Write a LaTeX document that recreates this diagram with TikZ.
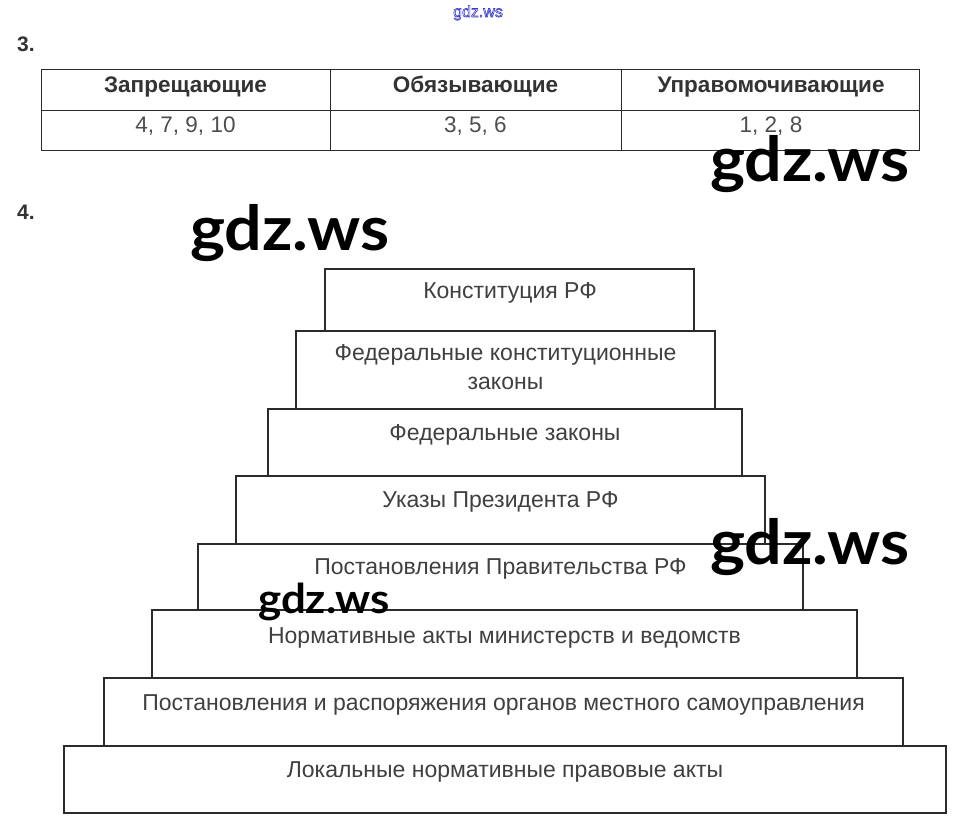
\documentclass[tikz,border=0pt]{standalone}
\usepackage{fontspec}
\usepackage{graphicx}
\setmainfont{Liberation Sans}
\newfontfamily\wmfont{Lato}
\definecolor{linec}{HTML}{2B2B2B}
\definecolor{txtc}{HTML}{404040}
\definecolor{headc}{HTML}{333333}
\definecolor{numc}{HTML}{4E4E4E}
\definecolor{wmblue}{HTML}{3A3ACC}
\newcommand{\wmtext}[1]{\scalebox{1.07}[1]{#1}}
\tikzset{
  tabline/.style={draw=linec, line width=1pt},
  pbox/.style={draw=linec, line width=2pt, inner sep=0pt, outer sep=0pt, fill=white},
  ptext/.style={text=txtc, font=\fontsize{23}{29}\selectfont, inner sep=0pt, align=center, anchor=base},
  headtext/.style={text=headc, font=\fontsize{22.5}{24}\selectfont\bfseries, inner sep=0pt, anchor=base},
  numtext/.style={text=numc, font=\fontsize{22.5}{24}\selectfont, inner sep=0pt, anchor=base},
  itemno/.style={text=headc, font=\fontsize{21}{22}\selectfont\bfseries, inner sep=0pt, anchor=base west},
  wmark/.style={text=black, font=\wmfont\bfseries\fontsize{62}{62}\selectfont, inner sep=0pt, anchor=base west},
  wmsmall/.style={text=black, font=\wmfont\bfseries\fontsize{41}{41}\selectfont, inner sep=0pt, anchor=base west},
  wmtop/.style={text=wmblue, font=\fontsize{16}{16}\selectfont, inner sep=0pt, anchor=base},
}
\begin{document}
\begin{tikzpicture}[x=1pt,y=-1pt]
\path[use as bounding box, fill=white] (0,0) rectangle (956,825);

% top small watermark (outlined)
\node[wmtop] (wm0) at (478,17) {\special{pdf:literal 1 Tr 0.6 w}gdz.ws\special{pdf:literal 0 Tr}};

% item numbers
\node[itemno] (n3) at (17,51) {3.};
\node[itemno] (n4) at (17,219) {4.};

% table
\draw[tabline] (41,69) rectangle (919,150);
\draw[tabline] (41,110) -- (919,110);
\draw[tabline] (330,69) -- (330,150);
\draw[tabline] (621,69) -- (621,150);
\node[headtext] (h1) at (185.5,92) {Запрещающие};
\node[headtext] (h2) at (475.5,92) {Обязывающие};
\node[headtext] (h3) at (771,92) {Управомочивающие};
\node[numtext] (v1) at (185.5,132) {4, 7, 9, 10};
\node[numtext] (v2) at (475.5,132) {3, 5, 6};
\node[numtext] (v3) at (771,132) {1, 2, 8};

% pyramid
\node[pbox, minimum width=369pt, minimum height=62pt] (b1) at (509.5,300) {};
\node[pbox, minimum width=419pt, minimum height=78pt] (b2) at (505.5,370) {};
\node[pbox, minimum width=474pt, minimum height=67pt] (b3) at (505,442.5) {};
\node[pbox, minimum width=529pt, minimum height=68pt] (b4) at (500.5,510) {};
\node[pbox, minimum width=605pt, minimum height=66pt] (b5) at (500.5,577) {};
\node[pbox, minimum width=705pt, minimum height=68pt] (b6) at (504.5,644) {};
\node[pbox, minimum width=799pt, minimum height=68pt] (b7) at (503.5,712) {};
\node[pbox, minimum width=882pt, minimum height=67pt] (b8) at (505,779.5) {};

\node[ptext] (t1) at (510,298) {Конституция РФ};
\node[ptext, anchor=center] (t2) at (505.5,367) {Федеральные конституционные\\законы};
\node[ptext] (t3) at (505,440) {Федеральные законы};
\node[ptext] (t4) at (500.5,507) {Указы Президента РФ};
\node[ptext] (t5) at (500.5,574) {Постановления Правительства РФ};
\node[ptext] (t6) at (504.5,643) {Нормативные акты министерств и ведомств};
\node[ptext] (t7) at (503.5,710) {Постановления и распоряжения органов местного самоуправления};
\node[ptext] (t8) at (505,777) {Локальные нормативные правовые акты};

% watermarks
\node[wmark] (wm1) at (190,250) {\wmtext{gdz.ws}};
\node[wmark] (wm2) at (710,181) {\wmtext{gdz.ws}};
\node[wmark] (wm3) at (710,564) {\wmtext{gdz.ws}};
\node[wmsmall] (wm4) at (258,613) {\wmtext{gdz.ws}};
\end{tikzpicture}
\end{document}
